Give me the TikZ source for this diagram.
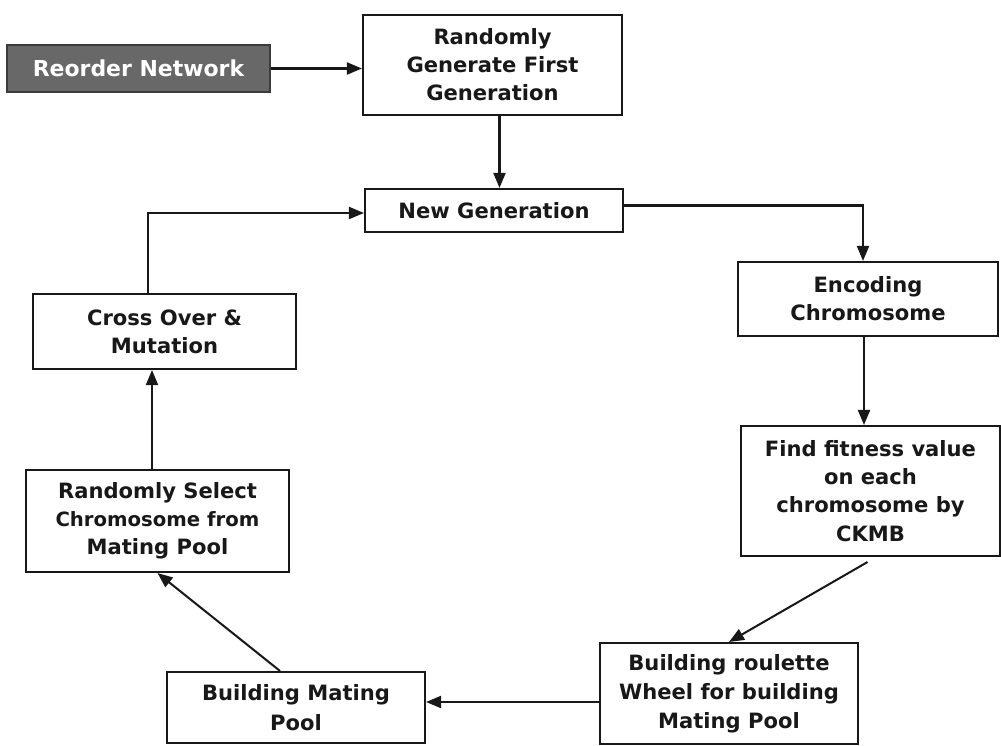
\documentclass[tikz,border=0pt]{standalone}
\usepackage{fontspec}
\setmainfont{DejaVu Sans}
\usetikzlibrary{arrows.meta,calc}

\definecolor{ink}{RGB}{24,24,24}
\definecolor{slab}{RGB}{104,104,104}
\newcommand\boxfont{\bfseries\fontsize{12}{16}\selectfont}

\tikzset{
  box/.style={draw=ink, line width=1.2pt, fill=white, rectangle, inner sep=0pt,
    align=center, font=\boxfont, text=ink},
  flow/.style={draw=ink, line width=1.15pt, -{Triangle[length=0.3cm,width=0.24cm]}},
}

\begin{document}
\begin{tikzpicture}[x=0.02cm, y=-0.02cm]
  \useasboundingbox (0,0) rectangle (1001,746);

  % process boxes
  \node[box, fill=slab, draw=ink!85, text=white, minimum width=5.26cm, minimum height=0.94cm,
    font=\bfseries\fontsize{12.5}{16}\selectfont]
    (reorder) at (138.5,68.5) {Reorder Network};
  \node[box, minimum width=5.18cm, minimum height=2.0cm]
    (first) at (492.5,65) {Randomly\\Generate First\\Generation};
  \node[box, minimum width=5.16cm, minimum height=0.86cm]
    (newgen) at (494,210.5) {New Generation};
  \node[box, minimum width=5.2cm, minimum height=1.48cm]
    (encode) at (868,299) {Encoding\\Chromosome};
  \node[box, minimum width=5.18cm, minimum height=2.6cm]
    (fitness) at (870.5,491) {Find fitness value\\on each\\chromosome by\\CKMB};
  \node[box, minimum width=5.16cm, minimum height=2.02cm, font=\bfseries\fontsize{12}{16.5}\selectfont]
    (roulette) at (729,693.5) {Building roulette\\Wheel for building\\Mating Pool};
  \node[box, minimum width=5.16cm, minimum height=1.42cm, font=\bfseries\fontsize{12}{17}\selectfont]
    (matepool) at (296,707.5) {Building Mating\\Pool};
  \node[box, minimum width=5.26cm, minimum height=2.04cm]
    (select) at (157.5,521) {Randomly Select\\{\fontsize{11.2}{16}\selectfont Chromosome from}\\Mating Pool};
  \node[box, minimum width=5.26cm, minimum height=1.5cm]
    (cross) at (164.5,331.5) {Cross Over \&\\Mutation};

  % connectors
  \draw[flow] (reorder.east) -- (reorder.east -| first.west);
  \draw[flow] ([xshift=0.14cm]first.south) -- ([xshift=0.14cm]first.south |- newgen.north);
  \draw[flow] ([yshift=0.1cm]newgen.east) -| ([xshift=-0.1cm]encode.north);
  \draw[flow] ([xshift=-0.08cm]encode.south) -- ([xshift=-0.08cm]encode.south |- fitness.north);
  \draw[flow] ([yshift=-0.1cm,xshift=-0.06cm]fitness.south) -- (roulette.north);
  \draw[flow] ([yshift=-0.17cm]roulette.west) -- ([yshift=-0.17cm]roulette.west -| matepool.east);
  \draw[flow] ([xshift=-0.32cm]matepool.north) -- (select.south);
  \draw[flow] ([xshift=-0.11cm]select.north) -- ([xshift=-0.11cm]select.north |- cross.south);
  \draw[flow] ([xshift=-0.33cm]cross.north) |- ([yshift=-0.05cm]newgen.west);
\end{tikzpicture}
\end{document}
